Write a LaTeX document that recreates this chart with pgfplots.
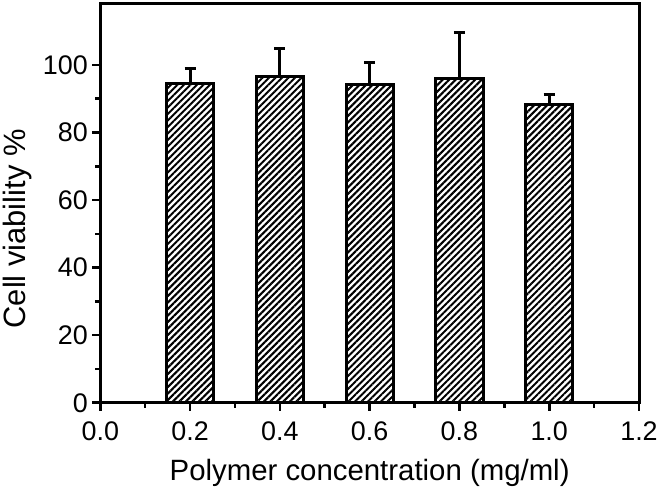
\documentclass[border=0pt]{standalone}
\usepackage{fontspec}
\setmainfont{Liberation Sans}
\usepackage{pgfplots}
\pgfplotsset{compat=1.18}
\usetikzlibrary{patterns.meta}
\begin{document}
\begin{tikzpicture}
\begin{axis}[
  scale only axis,
  width=539bp, height=399bp,
  xmin=0, xmax=1.2, ymin=0, ymax=118,
  xtick={0,0.2,...,1.2},
  ytick={0,20,...,100},
  minor x tick num=1, minor y tick num=1,
  xticklabel style={yshift=-7bp, /pgf/number format/.cd, fixed, fixed zerofill, precision=1},
  /pgf/number format/assume math mode=true,
  tick label style={font=\fontsize{27}{32}\selectfont},
  yticklabel style={xshift=-1bp},
  tick align=outside,
  xtick pos=bottom, ytick pos=left,
  major tick length=8bp, minor tick length=5bp,
  every tick/.style={line width=2.6bp, black},
  axis line style={line width=3bp},
  xlabel={Polymer concentration (mg/ml)},
  ylabel={Cell viability \%},
  xlabel style={font=\fontsize{29.5}{35}\selectfont, yshift=-12bp},
  ylabel style={font=\fontsize{31}{37}\selectfont, at={(ticklabel cs:0.436)}, yshift=4bp},
  ybar, bar width=0.105, bar shift=0pt,
]
\addplot[
  draw=black, line width=3bp,
  pattern={Lines[angle=45, distance=4.6bp, line width=2bp]},
  error bars/.cd, y dir=plus, y explicit,
  error bar style={line width=3bp, black},
  error mark options={rotate=90, mark size=5.5bp, line width=3bp, black},
] coordinates {
  (0.2,94.6) +- (0,4.2)
  (0.4,96.4) +- (0,8.3)
  (0.6,94.1) +- (0,6.6)
  (0.8,95.9) +- (0,13.8)
  (1.0,88.4) +- (0,2.7)
};
\end{axis}
\path ([yshift=4bp]current axis.north);
\end{tikzpicture}
\end{document}
